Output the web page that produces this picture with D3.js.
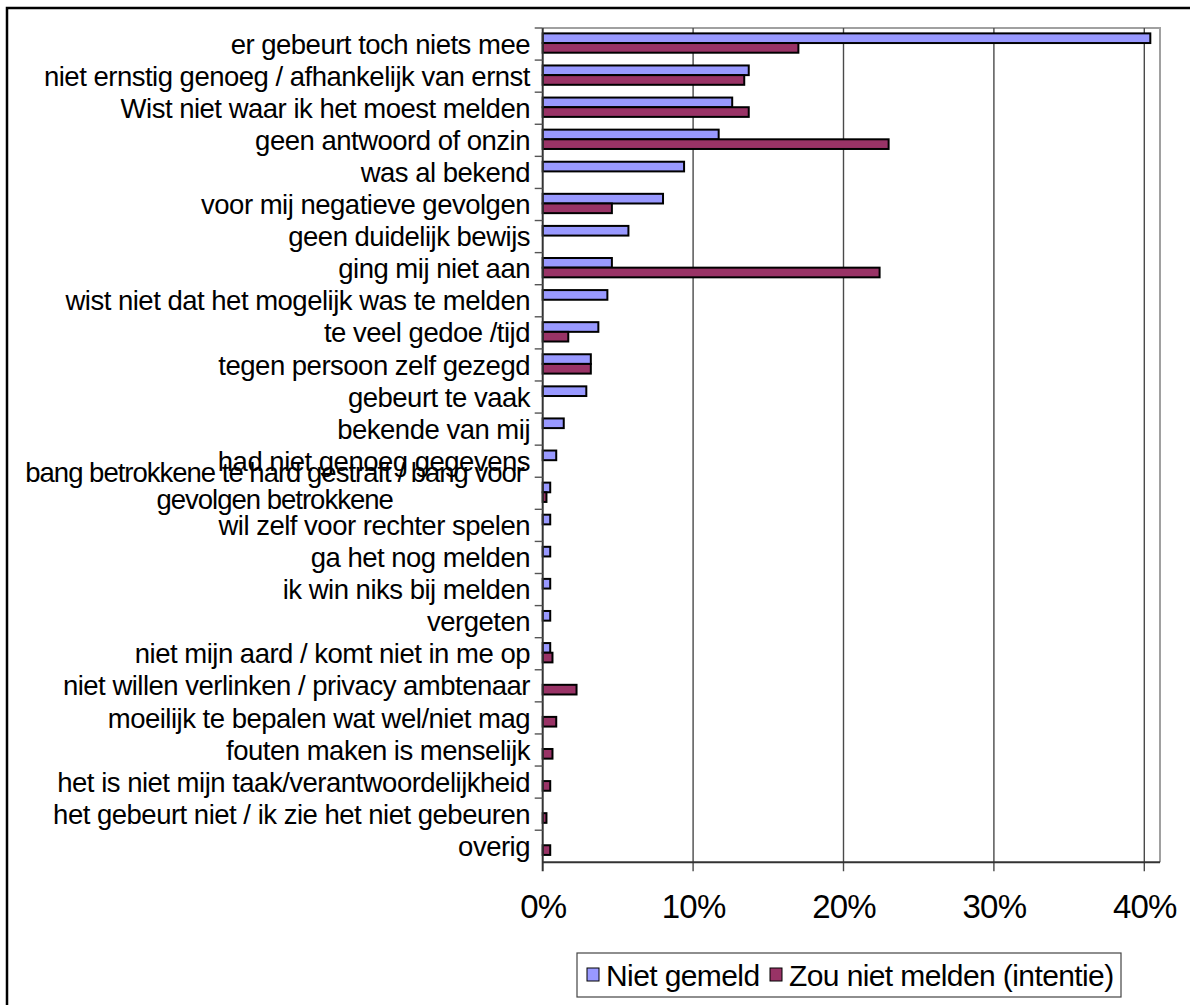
<html>
<head>
    <script src="https://cdn.jsdelivr.net/npm/d3@7"></script>
    <style>
        body { margin: 0; background: white; font-family: "Liberation Sans", Arial, sans-serif; }
        svg { display: block; }
    </style>
</head>
<body>
<svg id="chart" width="1190" height="1005"></svg>
<script>
    // categories, top to bottom ("\n" = line break in the label)
    const categories = [
        "er gebeurt toch niets mee",
        "niet ernstig genoeg / afhankelijk van ernst",
        "Wist niet waar ik het moest melden",
        "geen antwoord of onzin",
        "was al bekend",
        "voor mij negatieve gevolgen",
        "geen duidelijk bewijs",
        "ging mij niet aan",
        "wist niet dat het mogelijk was te melden",
        "te veel gedoe /tijd",
        "tegen persoon zelf gezegd",
        "gebeurt te vaak",
        "bekende van mij",
        "had niet genoeg gegevens",
        "bang betrokkene te hard gestraft / bang voor\ngevolgen betrokkene",
        "wil zelf voor rechter spelen",
        "ga het nog melden",
        "ik win niks bij melden",
        "vergeten",
        "niet mijn aard / komt niet in me op",
        "niet willen verlinken / privacy ambtenaar",
        "moeilijk te bepalen wat wel/niet mag",
        "fouten maken is menselijk",
        "het is niet mijn taak/verantwoordelijkheid",
        "het gebeurt niet / ik zie het niet gebeuren",
        "overig"
    ];
    // percentages
    const nietGemeld = [40.4, 13.7, 12.6, 11.7, 9.4, 8.0, 5.7, 4.6, 4.3, 3.7, 3.2, 2.9, 1.4,
        0.9, 0.5, 0.5, 0.5, 0.5, 0.5, 0.5, 0, 0, 0, 0, 0, 0];
    const zouNietMelden = [17.0, 13.4, 13.7, 23.0, 0, 4.6, 0, 22.4, 0, 1.7, 3.2, 0, 0,
        0, 0.25, 0, 0, 0, 0, 0.65, 2.25, 0.9, 0.65, 0.5, 0.25, 0.5];
    const seriesNames = ["Niet gemeld", "Zou niet melden (intentie)"];
    const seriesColors = ["#9999FF", "#993366"];
    const xTicks = [0, 10, 20, 30, 40];

    const svg = d3.select("#chart");
    const plot = {left: 542.7, top: 28, right: 1160, bottom: 862.3};

    // outer chart border
    svg.append("rect")
        .attr("x", 7).attr("y", 8)
        .attr("width", 1300).attr("height", 1200)
        .attr("fill", "none").attr("stroke", "#000").attr("stroke-width", 2.5);

    let x = d3.scaleLinear().domain([0, 40]).range([plot.left, 1144.3]);
    let y = d3.scaleBand().domain(d3.range(categories.length))
        .range([plot.top, plot.bottom]);
    let inner = d3.scaleBand().domain([0, 1])
        .range([0, y.bandwidth()]).paddingOuter(0.66).paddingInner(0);

    // plot frame (top + right, light gray)
    svg.append("path")
        .attr("d", `M${plot.left},${plot.top}H${plot.right}V${plot.bottom}`)
        .attr("fill", "none").attr("stroke", "#a0a0a0").attr("stroke-width", 2);

    // vertical gridlines
    svg.append("g").selectAll("line").data(xTicks.slice(1)).enter().append("line")
        .attr("x1", d => x(d)).attr("x2", d => x(d))
        .attr("y1", plot.top).attr("y2", plot.bottom + 9)
        .attr("stroke", "#4a4a4a").attr("stroke-width", 1.4);

    // bars
    let series = [nietGemeld, zouNietMelden];
    series.forEach((vals, s) => {
        svg.append("g").selectAll("rect")
            .data(vals.map((v, i) => ({v, i})).filter(d => d.v > 0))
            .enter().append("rect")
            .attr("x", x(0))
            .attr("y", d => y(d.i) + inner(s) - 1)
            .attr("width", d => x(d.v) - x(0))
            .attr("height", inner.bandwidth())
            .attr("fill", seriesColors[s])
            .attr("stroke", "#000").attr("stroke-width", 2);
    });

    // axes
    svg.append("line")
        .attr("x1", plot.left).attr("x2", plot.left)
        .attr("y1", plot.top).attr("y2", plot.bottom + 9)
        .attr("stroke", "#333").attr("stroke-width", 2);
    svg.append("line")
        .attr("x1", plot.left).attr("x2", plot.right)
        .attr("y1", plot.bottom).attr("y2", plot.bottom)
        .attr("stroke", "#333").attr("stroke-width", 2);

    // category tick marks on the band boundaries
    svg.append("g").selectAll("line").data(d3.range(categories.length)).enter().append("line")
        .attr("x1", plot.left - 8).attr("x2", plot.left)
        .attr("y1", d => y(d)).attr("y2", d => y(d))
        .attr("stroke", "#555").attr("stroke-width", 1.4);

    // category labels (multi-line ones are a centred block)
    let labels = svg.append("g")
        .attr("font-size", 27.5)
        .attr("letter-spacing", -0.5)
        .attr("fill", "#000");
    categories.forEach((c, i) => {
        let lines = c.split("\n");
        let lh = 27;
        let cy = y(i) + y.bandwidth() / 2 - (lines.length > 1 ? 7 : 0);
        if (lines.length == 1) {
            labels.append("text")
                .attr("x", 530).attr("y", cy)
                .attr("dy", "0.35em").attr("text-anchor", "end")
                .text(c);
            return;
        }
        let texts = lines.map((ln, k) => labels.append("text")
            .attr("y", cy + (k - (lines.length - 1) / 2) * lh)
            .attr("dy", "0.35em").attr("text-anchor", "middle")
            .attr("letter-spacing", -1)
            .text(ln));
        let w = d3.max(texts, t => t.node().getComputedTextLength());
        texts.forEach(t => t.attr("x", 524 - w / 2));
    });

    // x tick labels
    let xAxis = d3.axisBottom(x).tickValues(xTicks)
        .tickFormat(d => d + "%").tickSize(0).tickPadding(32);
    svg.append("g")
        .attr("transform", `translate(0,${plot.bottom})`)
        .call(xAxis)
        .call(g => g.select(".domain").remove())
        .selectAll("text")
        .attr("font-family", "Liberation Sans, Arial, sans-serif")
        .attr("font-size", 33).attr("letter-spacing", -0.8).attr("fill", "#000");

    // legend
    let legend = svg.append("g").attr("transform", "translate(577,953)");
    legend.append("rect")
        .attr("width", 544).attr("height", 44)
        .attr("fill", "#fff").attr("stroke", "#444").attr("stroke-width", 1.2);
    let lx = [10, 193];
    seriesNames.forEach((n, s) => {
        legend.append("rect")
            .attr("x", lx[s]).attr("y", 15)
            .attr("width", 12).attr("height", 13)
            .attr("fill", seriesColors[s]).attr("stroke", "#000").attr("stroke-width", 1);
        legend.append("text")
            .attr("x", lx[s] + 19).attr("y", 22)
            .attr("dy", "0.35em")
            .attr("font-size", 30).attr("letter-spacing", -0.6)
            .text(n);
    });
</script>
</body>
</html>
